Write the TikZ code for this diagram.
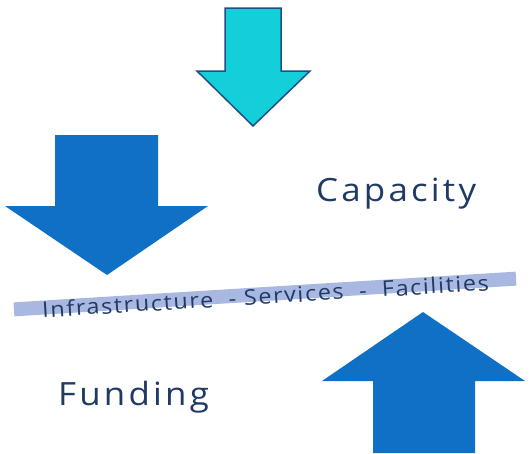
\documentclass[tikz,border=0pt]{standalone}
\usepackage{fontspec}
\setmainfont{Open Sans}
\newfontfamily\bigfont[LetterSpace=10,FakeStretch=1.09]{Open Sans}
\newfontfamily\barfont[LetterSpace=7.5,FakeStretch=1.09]{Open Sans}
\definecolor{arrowblue}{HTML}{1070C6}
\definecolor{cyanfill}{HTML}{12CFD9}
\definecolor{cyanline}{HTML}{1F4E86}
\definecolor{barblue}{HTML}{A8B8E0}
\definecolor{navy}{HTML}{1F3A64}
\tikzset{
  bluearrow/.style={fill=arrowblue, draw=none},
  cyanarrow/.style={fill=cyanfill, draw=cyanline, line width=1.5pt, line join=miter},
  bigtext/.style={text=navy, font=\bigfont\fontsize{32}{36}\selectfont, inner sep=0pt, anchor=base west},
}
\begin{document}
\begin{tikzpicture}[x=1pt,y=-1pt]
\useasboundingbox (0,0) rectangle (532,453);
% cyan arrow
\path[cyanarrow] (225,8) -- (281,8) -- (281,71) -- (310,71) -- (253,126) -- (197,71) -- (225,71) -- cycle;
% left down arrow
\path[bluearrow] (55,135) -- (158,135) -- (158,206) -- (208,206) -- (107,275) -- (5,206) -- (55,206) -- cycle;
% right up arrow
\path[bluearrow] (373,453) -- (373,381) -- (322,381) -- (423,312) -- (525,381) -- (475,381) -- (475,453) -- cycle;
% bar
\node[fill=barblue, minimum width=503pt, minimum height=14pt, inner sep=0pt, rotate=3.5] (bar) at (265,294) {};
\node[text=navy, font=\barfont\fontsize{21.5}{24}\selectfont, inner sep=0pt, rotate=3.5, anchor=base] (bartext) at (266,304) {Infrastructure\ \ - Services\ \ -\ \ Facilities};
% labels
\node[bigtext] (cap) at (316,201) {Capacity};
\node[bigtext] (fund) at (58,405) {Funding};
\end{tikzpicture}
\end{document}
